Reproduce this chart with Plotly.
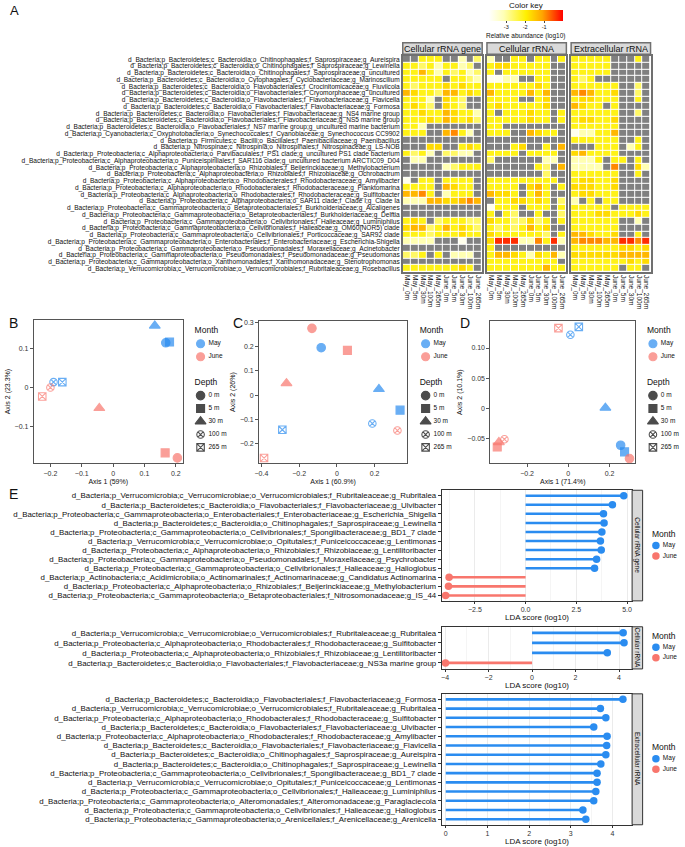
import plotly.graph_objects as go

W, H = 685, 847
FONT = "Liberation Sans, Arial, sans-serif"
N = None

MAY = "#2A8CF0"
JUNE = "#F8766D"


def fx(x):
    return x / W


def fy(y):
    return 1 - y / H


# ---------------- Panel A: heatmap data (log10 relative abundance, None = absent)
samples = ["May_0m", "May_5m", "May_30m", "May_100m", "May_265m",
           "June_0m", "June_5m", "June_30m", "June_100m", "June_265m"]

taxa = [
    "d_Bacteria;p_Bacteroidetes;c_Bacteroidia;o_Chitinophagales;f_Saprospiraceae;g_Aureispira",
    "d_Bacteria;p_Bacteroidetes;c_Bacteroidia;o_Chitinophagales;f_Saprospiraceae;g_Lewinella",
    "d_Bacteria;p_Bacteroidetes;c_Bacteroidia;o_Chitinophagales;f_Saprospiraceae;g_uncultured",
    "d_Bacteria;p_Bacteroidetes;c_Bacteroidia;o_Cytophagales;f_Cyclobacteriaceae;g_Marinoscilium",
    "d_Bacteria;p_Bacteroidetes;c_Bacteroidia;o_Flavobacteriales;f_Crocinitomicaceae;g_Fluviicola",
    "d_Bacteria;p_Bacteroidetes;c_Bacteroidia;o_Flavobacteriales;f_Cryomorphaceae;g_uncultured",
    "d_Bacteria;p_Bacteroidetes;c_Bacteroidia;o_Flavobacteriales;f_Flavobacteriaceae;g_Flavicella",
    "d_Bacteria;p_Bacteroidetes;c_Bacteroidia;o_Flavobacteriales;f_Flavobacteriaceae;g_Formosa",
    "d_Bacteria;p_Bacteroidetes;c_Bacteroidia;o_Flavobacteriales;f_Flavobacteriaceae;g_NS4 marine group",
    "d_Bacteria;p_Bacteroidetes;c_Bacteroidia;o_Flavobacteriales;f_Flavobacteriaceae;g_NS5 marine group",
    "d_Bacteria;p_Bacteroidetes;c_Bacteroidia;o_Flavobacteriales;f_NS7 marine group;g_uncultured marine bacterium",
    "d_Bacteria;p_Cyanobacteria;c_Oxyphotobacteria;o_Synechococcales;f_Cyanobiaceae;g_Synechococcus CC9902",
    "d_Bacteria;p_Firmicutes;c_Bacilli;o_Bacillales;f_Paenibacillaceae;g_Paenibacillus",
    "d_Bacteria;p_Nitrospinae;c_Nitrospinia;o_Nitrospinales;f_Nitrospinaceae;g_LS-NOB",
    "d_Bacteria;p_Proteobacteria;c_Alphaproteobacteria;o_Parvibaculales;f_PS1 clade;g_uncultured PS1 clade bacterium",
    "d_Bacteria;p_Proteobacteria;c_Alphaproteobacteria;o_Puniceispirillales;f_SAR116 clade;g_uncultured bacterium ARCTIC09_D04",
    "d_Bacteria;p_Proteobacteria;c_Alphaproteobacteria;o_Rhizobiales;f_Beijerinckiaceae;g_Methylobacterium",
    "d_Bacteria;p_Proteobacteria;c_Alphaproteobacteria;o_Rhizobiales;f_Rhizobiaceae;g_Ochrobactrum",
    "d_Bacteria;p_Proteobacteria;c_Alphaproteobacteria;o_Rhodobacterales;f_Rhodobacteraceae;g_Amylibacter",
    "d_Bacteria;p_Proteobacteria;c_Alphaproteobacteria;o_Rhodobacterales;f_Rhodobacteraceae;g_Planktomarina",
    "d_Bacteria;p_Proteobacteria;c_Alphaproteobacteria;o_Rhodobacterales;f_Rhodobacteraceae;g_Sulfitobacter",
    "d_Bacteria;p_Proteobacteria;c_Alphaproteobacteria;o_SAR11 clade;f_Clade I;g_Clade Ia",
    "d_Bacteria;p_Proteobacteria;c_Gammaproteobacteria;o_Betaproteobacteriales;f_Burkholderiaceae;g_Alcaligenes",
    "d_Bacteria;p_Proteobacteria;c_Gammaproteobacteria;o_Betaproteobacteriales;f_Burkholderiaceae;g_Delftia",
    "d_Bacteria;p_Proteobacteria;c_Gammaproteobacteria;o_Cellvibrionales;f_Halieaceae;g_Luminiphilus",
    "d_Bacteria;p_Proteobacteria;c_Gammaproteobacteria;o_Cellvibrionales;f_Halieaceae;g_OM60(NOR5) clade",
    "d_Bacteria;p_Proteobacteria;c_Gammaproteobacteria;o_Cellvibrionales;f_Porticoccaceae;g_SAR92 clade",
    "d_Bacteria;p_Proteobacteria;c_Gammaproteobacteria;o_Enterobacteriales;f_Enterobacteriaceae;g_Escherichia-Shigella",
    "d_Bacteria;p_Proteobacteria;c_Gammaproteobacteria;o_Pseudomonadales;f_Moraxellaceae;g_Acinetobacter",
    "d_Bacteria;p_Proteobacteria;c_Gammaproteobacteria;o_Pseudomonadales;f_Pseudomonadaceae;g_Pseudomonas",
    "d_Bacteria;p_Proteobacteria;c_Gammaproteobacteria;o_Xanthomonadales;f_Xanthomonadaceae;g_Stenotrophomonas",
    "d_Bacteria;p_Verrucomicrobia;c_Verrucomicrobiae;o_Verrucomicrobiales;f_Rubritaleaceae;g_Rosebacillus",
]

gene_abund = [
    [N, N, -2.1, -2.1, -2.1, N, N, -3.1, N, -2.6],
    [-2.1, -2.1, -2.6, -2.1, -3.1, -2.1, -2.1, -3.1, -2.6, N],
    [-2.1, -2.1, -1.3, -2.1, -3.1, -2.1, -2.6, -2.1, -3.1, -2.6],
    [-2.1, -2.1, -2.1, -2.1, -2.1, N, -2.1, -2.1, -2.6, -3.1],
    [-2.1, -2.6, -2.1, -2.1, -2.1, -1.7, -2.1, -1.7, -2.1, -2.1],
    [-1.3, -1.7, -2.1, -2.1, -2.6, -1.3, -1.3, -2.1, -1.7, -2.1],
    [-2.1, -2.1, -2.1, -3.1, N, -1.7, -2.1, -2.6, N, N],
    [-2.1, -1.7, -2.1, -2.6, N, -1.7, -2.1, -2.6, N, N],
    [-2.1, -2.1, -1.7, -2.1, -2.1, -1.3, -1.7, -2.1, -2.1, -3.1],
    [-2.1, -2.1, -2.1, -1.7, -2.1, -1.3, -1.7, -2.1, -1.7, -2.6],
    [-2.1, -2.1, -3.1, N, N, N, N, N, N, N],
    [-2.1, -2.1, -2.1, N, N, -1.3, -0.9, -2.1, -3.1, N],
    [N, N, N, N, N, N, N, N, N, N],
    [N, N, N, -1.7, -1.7, N, N, -2.1, -1.7, -2.1],
    [-2.1, -2.6, -2.1, -3.1, N, -2.6, -2.6, -3.1, -3.1, N],
    [N, -3.1, -3.1, N, N, N, N, N, N, N],
    [N, N, N, N, N, -3.1, -2.6, -2.1, -2.1, -2.1],
    [N, N, N, N, N, N, N, N, N, N],
    [-3.7, N, -2.1, -2.1, N, -2.1, -2.1, -2.1, -2.1, N],
    [-2.1, -2.1, -2.1, -2.1, N, -1.3, -1.7, -2.1, -2.1, N],
    [-1.3, -1.3, -0.9, -2.1, N, -3.1, -2.1, -2.1, -2.1, N],
    [-3.1, -3.1, -3.1, -1.3, -1.3, -1.7, -1.7, -1.3, -0.9, -1.3],
    [N, N, N, N, N, N, N, N, N, N],
    [N, N, N, N, N, N, N, N, N, N],
    [-2.1, -1.7, -2.1, N, -2.6, -2.1, -2.1, -2.1, -2.6, -2.6],
    [-1.7, -1.3, -1.3, -2.6, -2.1, -1.3, -2.1, -1.7, -2.1, -2.6],
    [-2.1, -2.1, -2.1, -2.6, -2.1, -2.1, -2.1, -1.7, -2.1, -2.1],
    [-3.1, -3.1, -3.1, -3.1, N, N, N, -3.7, N, N],
    [N, N, N, N, N, N, N, N, N, N],
    [-2.6, -2.6, -2.1, N, -2.1, N, -3.1, -3.1, -3.1, N],
    [N, N, N, N, N, N, N, N, N, N],
    [-2.1, -2.1, -2.1, -2.1, -2.1, -2.1, -2.1, -1.7, -2.1, N],
]

cell_abund = [
    [-3.1, N, N, -2.1, -2.1, N, -2.1, -2.1, N, -2.1],
    [-2.1, -1.7, -1.7, -2.1, -2.1, -2.1, -2.1, -2.1, N, N],
    [-2.1, N, -2.1, -2.1, -2.1, -2.1, -2.1, -2.1, N, N],
    [-3.7, -3.7, -3.1, -3.1, N, N, -2.1, -2.1, N, N],
    [-2.1, -2.1, -2.1, -2.1, -2.1, -2.1, -1.7, -2.1, N, N],
    [-1.3, -2.1, -2.1, -2.1, -2.1, -1.3, -2.1, -1.3, N, N],
    [-2.1, -2.1, -2.1, -2.1, N, N, -2.1, -1.7, N, N],
    [-2.1, -1.7, -2.1, -2.1, -2.1, -2.1, -2.1, -1.7, N, N],
    [-2.1, N, -2.1, -2.1, -2.1, -1.7, -2.1, -2.1, N, -2.1],
    [-2.1, -2.1, -2.1, -2.1, -2.1, -1.7, -2.1, -2.1, N, -2.1],
    [-2.1, -2.1, N, N, N, N, N, N, N, N],
    [-2.1, -2.1, -2.1, N, N, -1.3, -1.7, -2.1, -2.1, N],
    [N, N, N, N, N, N, N, N, N, N],
    [N, N, N, -2.1, -1.7, N, N, -2.1, N, -1.3],
    [-2.1, -2.1, -2.1, -2.1, N, -2.1, -2.1, -2.1, -2.1, N],
    [-2.6, N, N, N, N, N, N, -3.1, -3.1, N],
    [N, N, N, N, N, N, -2.1, -2.6, N, -1.3],
    [N, N, N, N, N, N, N, -2.6, N, N],
    [-2.1, -2.1, -2.1, -2.1, -2.1, -2.1, -2.1, -2.1, -2.1, N],
    [-2.1, -2.1, -2.1, -2.1, N, -1.7, -1.3, -2.1, N, -2.1],
    [-1.3, -1.7, -1.7, -2.1, N, -2.1, -1.3, -2.1, N, N],
    [N, -2.1, -2.1, -1.7, -1.7, -2.1, -1.7, -2.1, N, -2.6],
    [-3.7, -2.1, -2.1, -2.1, N, -2.1, -2.1, -2.1, N, -2.1],
    [-2.1, N, -2.1, -2.6, N, N, -2.1, N, N, -2.6],
    [-1.7, -2.1, -2.1, -2.6, -2.6, -1.7, -2.6, -2.1, N, -2.1],
    [-2.1, -2.6, -2.1, -2.6, -2.1, -1.3, -2.1, -1.7, N, N],
    [-1.7, -2.1, -2.1, -2.1, -2.1, -2.1, -2.1, -2.6, N, -2.1],
    [-1.7, -0.3, -0.3, -0.3, -3.1, -3.1, -0.9, -2.1, -0.3, -3.1],
    [-2.1, N, N, N, N, N, N, N, N, N],
    [-2.1, -1.3, -1.3, -1.7, -2.1, -3.1, -1.7, -2.1, -1.3, -3.1],
    [-2.1, -2.1, -2.1, -2.1, -2.1, -2.1, -2.1, -2.1, -2.1, N],
    [-2.1, -2.1, -2.1, -2.1, -2.1, -2.1, -2.1, -1.3, -2.1, -2.1],
]

extra_abund = [
    [-2.1, -2.1, -2.1, -2.1, -2.1, N, N, N, -2.1, N],
    [-2.1, -2.1, -2.1, -2.1, -2.1, N, N, N, N, N],
    [-2.1, -2.1, -2.1, -2.1, -2.1, N, N, N, N, N],
    [-2.1, -2.6, -2.1, N, N, N, N, N, N, N],
    [-2.1, -2.1, -2.1, -2.1, -2.1, -2.1, N, N, -2.6, N],
    [-1.3, -0.9, -1.3, -2.1, -2.1, -1.7, N, N, -2.6, N],
    [-2.1, -1.7, -1.7, -2.1, -2.1, -2.1, N, N, -2.1, N],
    [-1.3, -1.7, -2.1, -2.1, N, -2.1, N, N, N, N],
    [-2.1, -2.1, -2.1, -2.1, -2.1, -2.1, N, N, -2.6, N],
    [-2.1, -1.7, -1.7, -2.1, -2.1, -1.7, N, N, N, N],
    [-2.1, -2.1, -2.1, -2.1, -2.1, -2.1, N, N, N, N],
    [-3.7, -3.1, -3.1, -2.1, -2.1, -1.3, N, N, N, N],
    [-2.1, -2.1, -2.1, -2.1, -2.1, -2.1, N, N, -2.1, N],
    [N, N, N, -2.1, -2.1, -2.1, N, -3.1, -2.1, N],
    [-1.7, -1.3, -2.1, -2.1, -2.1, -2.1, N, N, N, N],
    [-3.1, -3.1, -3.1, -2.1, N, -2.1, -2.1, N, -2.1, N],
    [-3.1, -3.1, -3.1, -3.1, N, -0.9, N, N, -1.7, -3.1],
    [-2.1, -2.1, -2.1, -2.1, -2.1, -2.1, N, N, -2.1, N],
    [-2.1, -1.7, -1.7, -2.1, -2.1, -1.7, N, N, N, N],
    [-1.7, -1.7, -1.7, -2.1, -2.1, -1.7, N, N, N, N],
    [-2.1, -1.7, -1.7, -2.1, -2.1, -2.1, N, N, N, N],
    [-3.1, N, -2.1, N, -2.1, -2.1, N, N, N, N],
    [-2.1, -2.1, -2.1, -2.1, -2.1, N, -2.1, -2.1, -2.1, -2.1],
    [-2.1, -2.1, -2.1, -1.7, -1.7, -2.1, -2.1, -2.1, -1.7, -2.1],
    [-2.1, -2.1, -2.1, -2.1, -2.1, -2.1, N, N, -3.1, N],
    [-2.1, -2.1, -2.1, -2.1, -2.1, -2.1, N, N, N, N],
    [-1.3, -1.3, -1.7, -2.1, -2.1, -1.7, N, N, -2.1, N],
    [-1.3, -0.9, -0.9, -0.9, -1.3, -1.3, -0.3, -0.3, -0.9, -0.3],
    [-2.1, -2.1, -2.1, -2.1, -2.1, -2.1, -1.7, -1.7, -2.1, -1.7],
    [-1.7, -1.7, -1.7, -1.7, -1.7, -1.7, -1.3, -1.3, -1.3, -1.3],
    [-2.1, -2.1, -2.1, -2.1, -2.1, -2.1, -2.1, -1.7, -2.1, -1.7],
    [-2.1, -2.1, -2.1, -2.1, -2.1, -2.1, N, -2.1, -2.1, N],
]

# ---------------- Panels B-D: PCoA ordination
pcoa_month = ["May", "May", "May", "May", "May", "June", "June", "June", "June", "June"]
pcoa_depth = ["0 m", "5 m", "30 m", "100 m", "265 m", "0 m", "5 m", "30 m", "100 m", "265 m"]

b_axis1 = [0.168, 0.180, 0.133, -0.190, -0.162, 0.205, 0.166, -0.044, -0.200, -0.226]
b_axis2 = [0.115, 0.117, 0.159, 0.014, 0.014, -0.181, -0.168, -0.053, 0.000, -0.023]

c_axis1 = [-0.083, 0.335, 0.223, 0.188, -0.289, -0.132, 0.056, -0.267, 0.321, -0.386]
c_axis2 = [0.196, -0.062, 0.025, -0.117, -0.143, 0.276, 0.185, 0.049, -0.146, -0.260]

d_axis1 = [0.254, 0.273, 0.180, 0.010, 0.051, 0.297, -0.345, -0.337, -0.310, -0.048]
d_axis2 = [-0.061, -0.072, 0.001, 0.122, 0.135, -0.083, -0.064, -0.056, -0.051, 0.133]

# ---------------- Panel E: LEfSe LDA scores (positive = May, negative = June)
e_gene_taxa = [
    "d_Bacteria;p_Verrucomicrobia;c_Verrucomicrobiae;o_Verrucomicrobiales;f_Rubritaleaceae;g_Rubritalea",
    "d_Bacteria;p_Bacteroidetes;c_Bacteroidia;o_Flavobacteriales;f_Flavobacteriaceae;g_Ulvibacter",
    "d_Bacteria;p_Proteobacteria;c_Gammaproteobacteria;o_Enterobacteriales;f_Enterobacteriaceae;g_Escherichia_Shigella",
    "d_Bacteria;p_Bacteroidetes;c_Bacteroidia;o_Chitinophagales;f_Saprospiraceae;g_Lewinella",
    "d_Bacteria;p_Proteobacteria;c_Gammaproteobacteria;o_Cellvibrionales;f_Spongiibacteraceae;g_BD1_7 clade",
    "d_Bacteria;p_Verrucomicrobia;c_Verrucomicrobiae;o_Opitutales;f_Puniceicoccaceae;g_Lentimonas",
    "d_Bacteria;p_Proteobacteria;c_Alphaproteobacteria;o_Rhizobiales;f_Rhizobiaceae;g_Lentilitoribacter",
    "d_Bacteria;p_Proteobacteria;c_Gammaproteobacteria;o_Pseudomonadales;f_Moraxellaceae;g_Psychrobacter",
    "d_Bacteria;p_Proteobacteria;c_Gammaproteobacteria;o_Cellvibrionales;f_Halieaceae;g_Halioglobus",
    "d_Bacteria;p_Actinobacteria;c_Acidimicrobiia;o_Actinomarinales;f_Actinomarinaceae;g_Candidatus Actinomarina",
    "d_Bacteria;p_Proteobacteria;c_Alphaproteobacteria;o_Rhizobiales;f_Beijerinckiaceae;g_Methylobacterium",
    "d_Bacteria;p_Proteobacteria;c_Gammaproteobacteria;o_Betaproteobacteriales;f_Nitrosomonadaceae;g_IS_44",
]
e_gene_lda = [4.84, 4.28, 3.84, 3.87, 3.76, 3.69, 3.73, 3.50, 3.40, -3.77, -3.80, -3.94]

e_cell_taxa = [
    "d_Bacteria;p_Verrucomicrobia;c_Verrucomicrobiae;o_Verrucomicrobiales;f_Rubritaleaceae;g_Rubritalea",
    "d_Bacteria;p_Proteobacteria;c_Alphaproteobacteria;o_Rhodobacterales;f_Rhodobacteraceae;g_Sulfitobacter",
    "d_Bacteria;p_Proteobacteria;c_Alphaproteobacteria;o_Rhizobiales;f_Rhizobiaceae;g_Lentilitoribacter",
    "d_Bacteria;p_Bacteroidetes;c_Bacteroidia;o_Flavobacteriales;f_Flavobacteriaceae;g_NS3a marine group",
]
e_cell_lda = [4.19, 4.23, 3.46, -3.98]

e_extra_taxa = [
    "d_Bacteria;p_Bacteroidetes;c_Bacteroidia;o_Flavobacteriales;f_Flavobacteriaceae;g_Formosa",
    "d_Bacteria;p_Verrucomicrobia;c_Verrucomicrobiae;o_Verrucomicrobiales;f_Rubritaleaceae;g_Rubritalea",
    "d_Bacteria;p_Proteobacteria;c_Alphaproteobacteria;o_Rhodobacterales;f_Rhodobacteraceae;g_Sulfitobacter",
    "d_Bacteria;p_Bacteroidetes;c_Bacteroidia;o_Flavobacteriales;f_Flavobacteriaceae;g_Ulvibacter",
    "d_Bacteria;p_Proteobacteria;c_Alphaproteobacteria;o_Rhodobacterales;f_Rhodobacteraceae;g_Amylibacter",
    "d_Bacteria;p_Bacteroidetes;c_Bacteroidia;o_Flavobacteriales;f_Flavobacteriaceae;g_Flavicella",
    "d_Bacteria;p_Bacteroidetes;c_Bacteroidia;o_Chitinophagales;f_Saprospiraceae;g_Aureispira",
    "d_Bacteria;p_Bacteroidetes;c_Bacteroidia;o_Chitinophagales;f_Saprospiraceae;g_Lewinella",
    "d_Bacteria;p_Proteobacteria;c_Gammaproteobacteria;o_Cellvibrionales;f_Spongiibacteraceae;g_BD1_7 clade",
    "d_Bacteria;p_Verrucomicrobia;c_Verrucomicrobiae;o_Opitutales;f_Puniceicoccaceae;g_Lentimonas",
    "d_Bacteria;p_Proteobacteria;c_Gammaproteobacteria;o_Cellvibrionales;f_Halieaceae;g_Luminiphilus",
    "d_Bacteria;p_Proteobacteria;c_Gammaproteobacteria;o_Alteromonadales;f_Alteromonadaceae;g_Paraglaciecola",
    "d_Bacteria;p_Proteobacteria;c_Gammaproteobacteria;o_Cellvibrionales;f_Halieaceae;g_Halioglobus",
    "d_Bacteria;p_Proteobacteria;c_Gammaproteobacteria;o_Arenicellales;f_Arenicellaceae;g_Arenicella",
]
e_extra_lda = [4.25, 3.71, 3.84, 3.55, 3.87, 3.86, 3.84, 3.72, 3.63, 3.63, 3.60, 3.55, 3.29, 3.36]

monthColors = {"May": MAY, "June": JUNE}
depthSymbols = {
    "0 m": "circle",
    "5 m": "square",
    "30 m": "triangle-up",
    "100 m": "circle-x-open",
    "265 m": "square-x-open",
}
depthSizes = {"0 m": 8.5, "5 m": 8, "30 m": 9.5, "100 m": 7.5, "265 m": 7.5}

heatScale = [[0, "#FFFFFF"], [0.2, "#FFFFB5"], [0.5, "#FFF000"],
             [0.72, "#FFA500"], [1, "#FF0000"]]

fig = go.Figure()
layout = {}
shapes = []
annotations = []


def axkeys(n):
    if n == 1:
        return "xaxis", "yaxis", "x", "y"
    return f"xaxis{n}", f"yaxis{n}", f"x{n}", f"y{n}"


def text(x, y, s, size=8, **kw):
    annotations.append(dict(x=fx(x), y=fy(y), xref="paper", yref="paper", text=s,
                            xanchor="center", yanchor="middle", showarrow=False,
                            font=dict(size=size, family=FONT, color="#111"), **kw))


# ---------------- Panel A heatmaps
heatPanels = [
    ("Cellular rRNA gene", gene_abund, 400.7, 480.7),
    ("Cellular rRNA", cell_abund, 485.5, 565.5),
    ("Extracellular rRNA", extra_abund, 570.3, 650.3),
]
HEAT_TOP, HEAT_BOTTOM = 54, 271
rowIdx = list(range(len(taxa)))

for n, (title, z, x0, x1) in enumerate(heatPanels, start=1):
    xk, yk, xr, yr = axkeys(n)
    mask = [[1 if v is None else None for v in row] for row in z]
    fig.add_trace(go.Heatmap(
        z=mask, x=samples, y=rowIdx, zmin=0, zmax=1,
        colorscale=[[0, "#808080"], [1, "#808080"]], showscale=False,
        xgap=1, ygap=1, hoverinfo="skip", xaxis=xr, yaxis=yr))
    fig.add_trace(go.Heatmap(
        z=z, x=samples, y=rowIdx, zmin=-3.9, zmax=0, colorscale=heatScale,
        xgap=1, ygap=1, showscale=(n == 1), xaxis=xr, yaxis=yr,
        colorbar=dict(orientation="h", x=fx(525), xanchor="center", y=fy(8), yanchor="top",
                      len=74, lenmode="pixels", thickness=11, thicknessmode="pixels",
                      outlinewidth=0, xpad=0, ypad=0, tickvals=[-3, -2, -1],
                      ticktext=["-3", "-2", "-1"], ticks="outside", ticklen=2,
                      tickfont=dict(size=5.5, family=FONT, color="#111")),
    ))
    layout[xk] = dict(domain=[fx(x0), fx(x1)], anchor=yr, tickangle=90,
                      tickmode="array", tickvals=samples, ticktext=samples,
                      tickfont=dict(size=6.5, family=FONT, color="#111"),
                      showline=True, mirror=True, linecolor="#707070", linewidth=1.5,
                      ticks="", showgrid=False, zeroline=False)
    layout[yk] = dict(domain=[fy(HEAT_BOTTOM), fy(HEAT_TOP)], anchor=xr,
                      range=[len(taxa) - 0.5, -0.5], showline=True, mirror=True,
                      linecolor="#707070", linewidth=1.5, showgrid=False, zeroline=False,
                      tickvals=rowIdx, ticktext=taxa, showticklabels=(n == 1),
                      tickfont=dict(size=6.6, family=FONT, color="#111"), ticks="")
    # facet strip
    shapes.append(dict(type="rect", xref="paper", yref="paper", x0=fx(x0), x1=fx(x1),
                       y0=fy(52.5), y1=fy(41), fillcolor="#D9D9D9",
                       line=dict(color="#707070", width=1.5)))
    text((x0 + x1) / 2, 46.8, title, size=9)

text(525, 4, "Color key", size=8)
text(525, 34, "Relative abundance (log10)", size=6.5)

# ---------------- Panels B-D ordinations
pcoaPanels = [
    dict(n=4, x=b_axis1, y=b_axis2, frame=(29, 179, 319, 463),
         xr=[-0.253, 0.222], yr=[-0.195, 0.174],
         xt=[-0.2, -0.1, 0, 0.1, 0.2], xtt=["−0.2", "−0.1", "0", "0.1", "0.2"],
         yt=[-0.1, 0, 0.1], ytt=["−0.1", "0", "0.1"],
         xtitle="Axis 1 (59%)", ytitle="Axis 2 (23.3%)", leg=191, letter=("B", 8.5)),
    dict(n=5, x=c_axis1, y=c_axis2, frame=(256, 405, 320, 463),
         xr=[-0.412, 0.372], yr=[-0.282, 0.307],
         xt=[-0.4, -0.2, 0, 0.2], xtt=["−0.4", "−0.2", "0", "0.2"],
         yt=[-0.2, -0.1, 0, 0.1, 0.2, 0.3], ytt=["−0.2", "−0.1", "0", "0.1", "0.2", "0.3"],
         xtitle="Axis 1 (60.9%)", ytitle="Axis 2 (26%)", leg=417.7, letter=("C", 235)),
    dict(n=6, x=d_axis1, y=d_axis2, frame=(489, 634.7, 320, 463),
         xr=[-0.378, 0.324], yr=[-0.091, 0.145],
         xt=[-0.2, 0, 0.2], xtt=["−0.2", "0", "0.2"],
         yt=[-0.05, 0, 0.05, 0.10], ytt=["−0.05", "0", "0.05", "0.10"],
         xtitle="Axis 1 (71.4%)", ytitle="Axis 2 (10.1%)", leg=646.7, letter=("D", 463)),
]

legendRows = ["Month", "May", "June", "", "Depth", "0 m", "5 m", "30 m", "100 m", "265 m"]

for p in pcoaPanels:
    xk, yk, xr, yr = axkeys(p["n"])
    for month in ["May", "June"]:
        idx = [i for i, m in enumerate(pcoa_month) if m == month]
        fig.add_trace(go.Scatter(
            x=[p["x"][i] for i in idx], y=[p["y"][i] for i in idx], mode="markers",
            marker=dict(color=monthColors[month],
                        symbol=[depthSymbols[pcoa_depth[i]] for i in idx],
                        size=[depthSizes[pcoa_depth[i]] for i in idx],
                        line=dict(width=1.1, color=monthColors[month])),
            showlegend=False, xaxis=xr, yaxis=yr))
    l, r, t, b = p["frame"]
    axstyle = dict(showline=True, mirror=True, linecolor="#555", linewidth=1,
                   showgrid=False, zeroline=False, ticks="outside", ticklen=3,
                   tickcolor="#555", tickfont=dict(size=7, family=FONT, color="#333"))
    layout[xk] = dict(domain=[fx(l), fx(r)], anchor=yr, range=p["xr"], tickvals=p["xt"],
                      ticktext=p["xtt"], title=dict(text=p["xtitle"], standoff=3,
                                                     font=dict(size=7, family=FONT, color="#111")),
                      **axstyle)
    layout[yk] = dict(domain=[fy(b), fy(t)], anchor=xr, range=p["yr"], tickvals=p["yt"],
                      ticktext=p["ytt"], title=dict(text=p["ytitle"], standoff=3,
                                                     font=dict(size=7, family=FONT, color="#111")),
                      **axstyle)
    text(p["letter"][1], 322, p["letter"][0], size=14)

    # manual legend (Month + Depth) on a hidden axis
    ln = p["n"] + 3
    lxk, lyk, lxr, lyr = axkeys(ln)
    lw = min(60, W - p["leg"])
    layout[lxk] = dict(domain=[fx(p["leg"]), fx(p["leg"] + lw)], range=[0, lw], visible=False, anchor=lyr)
    layout[lyk] = dict(domain=[fy(330 + 9.5 * 13), fy(330 - 6.5)], range=[9.5, -0.5],
                       visible=False, anchor=lxr)
    fig.add_trace(go.Scatter(x=[0, 0], y=[0, 4], mode="text", text=["Month", "Depth"],
                             textposition="middle right", cliponaxis=False,
                             textfont=dict(size=8.5, family=FONT, color="#111"),
                             showlegend=False, hoverinfo="skip", xaxis=lxr, yaxis=lyr))
    keyRows = [1, 2, 5, 6, 7, 8, 9]
    keyLabels = [legendRows[i] for i in keyRows]
    keyColors = [MAY, JUNE, "#000", "#000", "#000", "#000", "#000"]
    keySymbols = ["circle", "circle"] + [depthSymbols[d] for d in keyLabels[2:]]
    keySizes = [8, 8] + [depthSizes[d] for d in keyLabels[2:]]
    fig.add_trace(go.Scatter(x=[6] * len(keyRows), y=keyRows, mode="markers",
                             marker=dict(color=keyColors, symbol=keySymbols, size=keySizes,
                                         line=dict(width=1.1, color=keyColors)),
                             cliponaxis=False, showlegend=False, hoverinfo="skip",
                             xaxis=lxr, yaxis=lyr))
    fig.add_trace(go.Scatter(x=[14] * len(keyRows), y=keyRows, mode="text", text=keyLabels,
                             textposition="middle right", cliponaxis=False,
                             textfont=dict(size=6.5, family=FONT, color="#111"),
                             showlegend=False, hoverinfo="skip", xaxis=lxr, yaxis=lyr))

# ---------------- Panel E lollipops
lefsePanels = [
    dict(n=10, taxa=e_gene_taxa, lda=e_gene_lda, frame=(440, 631.7, 490, 601),
         xr=[-4.13, 5.25], dtick=2.5, fmt=".1f", strip="Cellular rRNA gene", leg=535),
    dict(n=11, taxa=e_cell_taxa, lda=e_cell_lda, frame=(440, 631.7, 627, 669.3),
         xr=[-4.15, 4.6], dtick=2, fmt="d", strip="Cellular rRNA", leg=637),
    dict(n=12, taxa=e_extra_taxa, lda=e_extra_lda, frame=(440, 631.7, 694.3, 825.7),
         xr=[-0.095, 4.47], dtick=1, fmt="d", strip="Extracellular rRNA", leg=749),
]

for p in lefsePanels:
    xk, yk, xr, yr = axkeys(p["n"])
    cols = [MAY if v > 0 else JUNE for v in p["lda"]]
    fig.add_trace(go.Bar(x=p["lda"], y=p["taxa"], orientation="h", width=0.28,
                         marker=dict(color=cols, line=dict(width=0)),
                         showlegend=False, xaxis=xr, yaxis=yr))
    fig.add_trace(go.Scatter(x=p["lda"], y=p["taxa"], mode="markers",
                             marker=dict(color=cols, size=7.5), cliponaxis=False,
                             showlegend=False, xaxis=xr, yaxis=yr))
    l, r, t, b = p["frame"]
    nrow = len(p["taxa"])
    layout[xk] = dict(domain=[fx(l), fx(r)], anchor=yr, range=p["xr"], tick0=0, dtick=p["dtick"],
                      tickformat=p["fmt"], showline=True, mirror=True, linecolor="#333",
                      linewidth=1, zeroline=False, showgrid=True, gridcolor="#EBEBEB",
                      gridwidth=1, minor=dict(dtick=p["dtick"] / 2, showgrid=True,
                                              gridcolor="#F5F5F5", gridwidth=0.6),
                      ticks="outside", ticklen=2, tickcolor="#333",
                      tickfont=dict(size=7, family=FONT, color="#333"))
    layout[yk] = dict(domain=[fy(b), fy(t)], anchor=xr, type="category",
                      categoryorder="array", categoryarray=p["taxa"],
                      range=[nrow - 1 + 0.6, -0.6], showline=True, mirror=True,
                      linecolor="#333", linewidth=1, showgrid=False, zeroline=False,
                      ticks="outside", ticklen=3, tickcolor="#333",
                      tickfont=dict(size=7.9, family=FONT, color="#111"))
    # axis title
    text((l + r) / 2, b + 17, "LDA score (log10)", size=8)
    # facet strip on the right
    shapes.append(dict(type="rect", xref="paper", yref="paper", x0=fx(r), x1=fx(r + 10.6),
                       y0=fy(b), y1=fy(t), fillcolor="#D9D9D9",
                       line=dict(color="#333", width=1)))
    text(r + 5.3, (t + b) / 2, p["strip"], size=6.5, textangle=90)

    # Month legend on a hidden axis
    ln = p["n"] + 3
    lxk, lyk, lxr, lyr = axkeys(ln)
    layout[lxk] = dict(domain=[fx(651.7), fx(685)], range=[0, 33.3], visible=False, anchor=lyr)
    layout[lyk] = dict(domain=[fy(p["leg"] + 2.5 * 10.5), fy(p["leg"] - 5.25)],
                       range=[2.5, -0.5], visible=False, anchor=lxr)
    fig.add_trace(go.Scatter(x=[0], y=[0], mode="text", text=["Month"],
                             textposition="middle right", cliponaxis=False,
                             textfont=dict(size=8.5, family=FONT, color="#111"),
                             showlegend=False, hoverinfo="skip", xaxis=lxr, yaxis=lyr))
    fig.add_trace(go.Scatter(x=[4, 4], y=[1, 2], mode="markers",
                             marker=dict(color=[MAY, JUNE], size=7.5), cliponaxis=False,
                             showlegend=False, hoverinfo="skip", xaxis=lxr, yaxis=lyr))
    fig.add_trace(go.Scatter(x=[11, 11], y=[1, 2], mode="text", text=["May", "June"],
                             textposition="middle right", cliponaxis=False,
                             textfont=dict(size=6.5, family=FONT, color="#111"),
                             showlegend=False, hoverinfo="skip", xaxis=lxr, yaxis=lyr))

text(10, 9, "A", size=13)
text(9, 494, "E", size=14)

fig.update_layout(
    width=W, height=H, autosize=False,
    margin=dict(l=0, r=0, t=0, b=0),
    paper_bgcolor="white", plot_bgcolor="white",
    font=dict(family=FONT, color="#111"),
    showlegend=False, barmode="overlay",
    shapes=shapes, annotations=annotations,
    **layout,
)

# the page body has a default 8px margin; drop it so the figure fills the window
fig.write_html("out.html", config={"displayModeBar": False},
               post_script="document.body.style.margin='0px';")
